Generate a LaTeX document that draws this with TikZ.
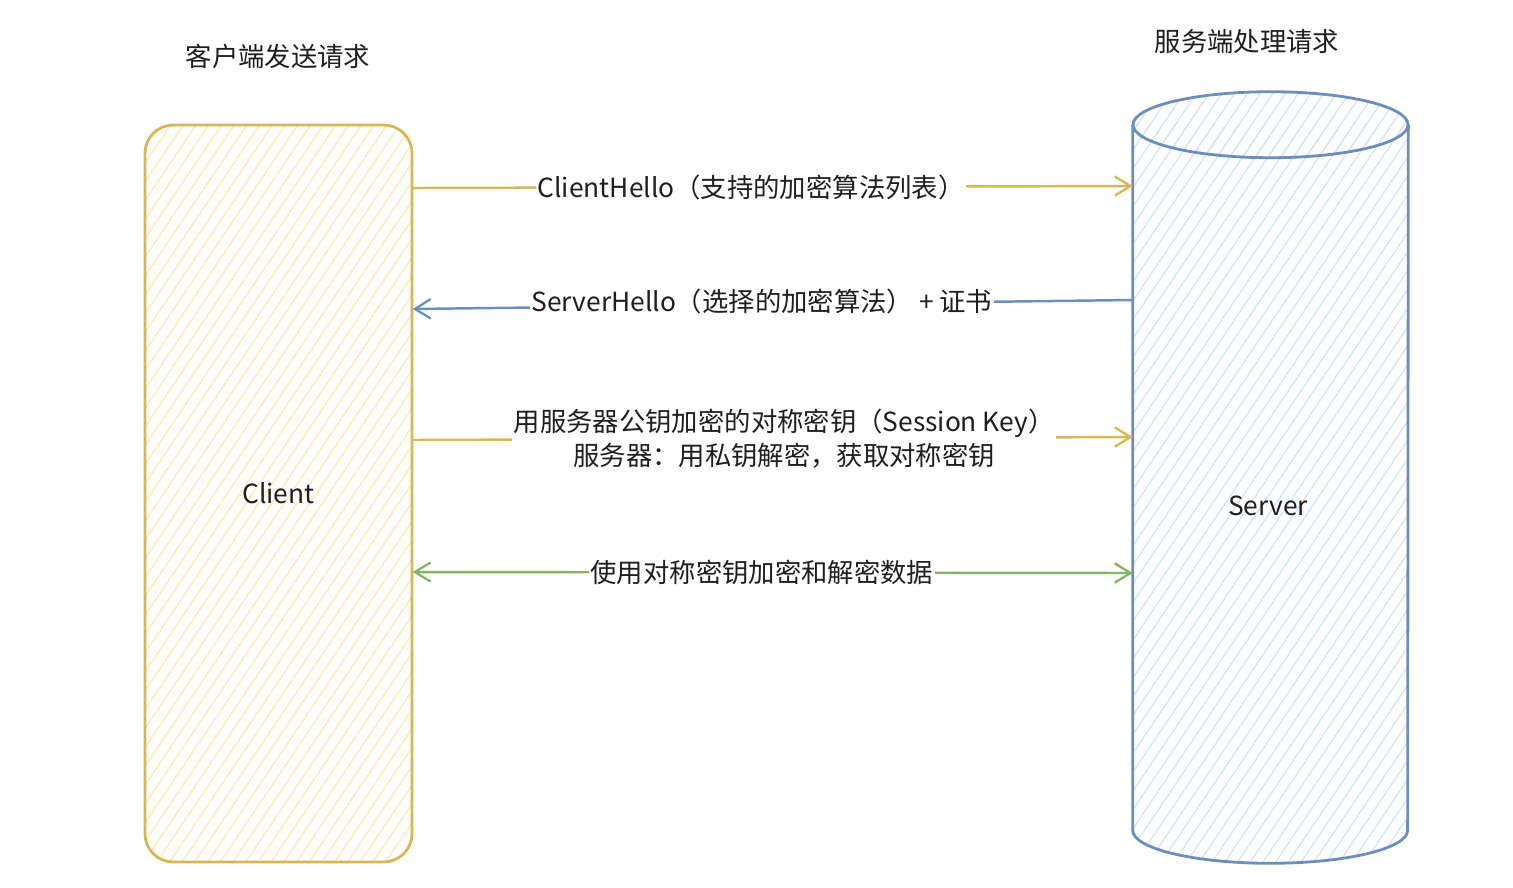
\documentclass[tikz,border=0pt]{standalone}
\usepackage{fontspec}
\setmainfont{Noto Sans CJK SC}
\usepackage{tikz}
\usetikzlibrary{arrows.meta,positioning,patterns.meta}
\definecolor{cliYellow}{HTML}{D6B656}
\definecolor{cliHatch}{HTML}{FBEBB5}
\definecolor{srvBlue}{HTML}{6C8EBF}
\definecolor{srvHatch}{HTML}{D6E4F8}
\definecolor{keyGreen}{HTML}{82B366}
\definecolor{inkText}{HTML}{1E1E1E}
\tikzset{
    tipb/.tip={Straight Barb[length=9pt,width=11pt,line width=1.3pt]},
    txt/.style={text=inkText, font=\fontsize{15pt}{19pt}\selectfont},
    msg/.style={txt, fill=white, inner sep=1pt, align=center},
    yarrow/.style={draw=cliYellow, line width=1.4pt, -{tipb}},
    barrow/.style={draw=srvBlue, line width=1.4pt, -{tipb}},
    garrow/.style={draw=keyGreen, line width=1.4pt, {tipb}-{tipb}},
    clientbox/.style={txt, draw=cliYellow, line width=1.6pt, rounded corners=16pt,
        pattern={Lines[angle=56,distance=6pt,line width=0.8pt]}, pattern color=cliHatch,
        minimum width=5.34cm, minimum height=14.74cm},
    serverfill/.style={pattern={Lines[angle=56,distance=6pt,line width=0.8pt]}, pattern color=srvHatch}
}
\begin{document}
\begin{tikzpicture}[x=0.02cm, y=-0.02cm]
    \useasboundingbox (0,0) rectangle (1513,887);
    % Titles
    \node[txt] (clienttitle) at (278,56) {客户端发送请求};
    \node[txt] (servertitle) at (1247,41) {服务端处理请求};

    % Client box
    \node[clientbox] (client) at (278.5,493.5) {Client};

    % Server cylinder
    \node[minimum width=5.5cm, minimum height=14.1cm, inner sep=0pt] (server) at (1270.5,477.5) {};
    \path[serverfill] (server.north west) -- (server.south west)
        arc[start angle=180, end angle=360, x radius=2.75cm, y radius=0.66cm]
        -- (server.north east) -- cycle;
    \path[serverfill] (server.north) ellipse[x radius=2.75cm, y radius=0.66cm];
    \draw[srvBlue, line width=1.6pt] (server.north west) -- (server.south west)
        arc[start angle=180, end angle=360, x radius=2.75cm, y radius=0.66cm]
        -- (server.north east);
    \draw[srvBlue, line width=1.6pt] (server.north) ellipse[x radius=2.75cm, y radius=0.66cm];
    \node[txt] (serverlabel) at (1268,506) {Server};

    % Handshake messages
    \draw[yarrow] (client.east |- 0,188) -- node[msg, pos=0.47] {ClientHello（支持的加密算法列表）} (server.west |- 0,186);
    \draw[barrow] (server.west |- 0,300) -- node[msg, pos=0.515, yshift=2pt] {ServerHello（选择的加密算法）\ + 证书} (client.east |- 0,309);
    \draw[yarrow] (client.east |- 0,440) -- node[msg, pos=0.516] {用服务器公钥加密的对称密钥（Session Key）\\服务器：用私钥解密，获取对称密钥} (server.west |- 0,437);
    \draw[garrow] (client.east |- 0,572) -- node[msg, pos=0.485] {使用对称密钥加密和解密数据} (server.west |- 0,573);
\end{tikzpicture}
\end{document}
